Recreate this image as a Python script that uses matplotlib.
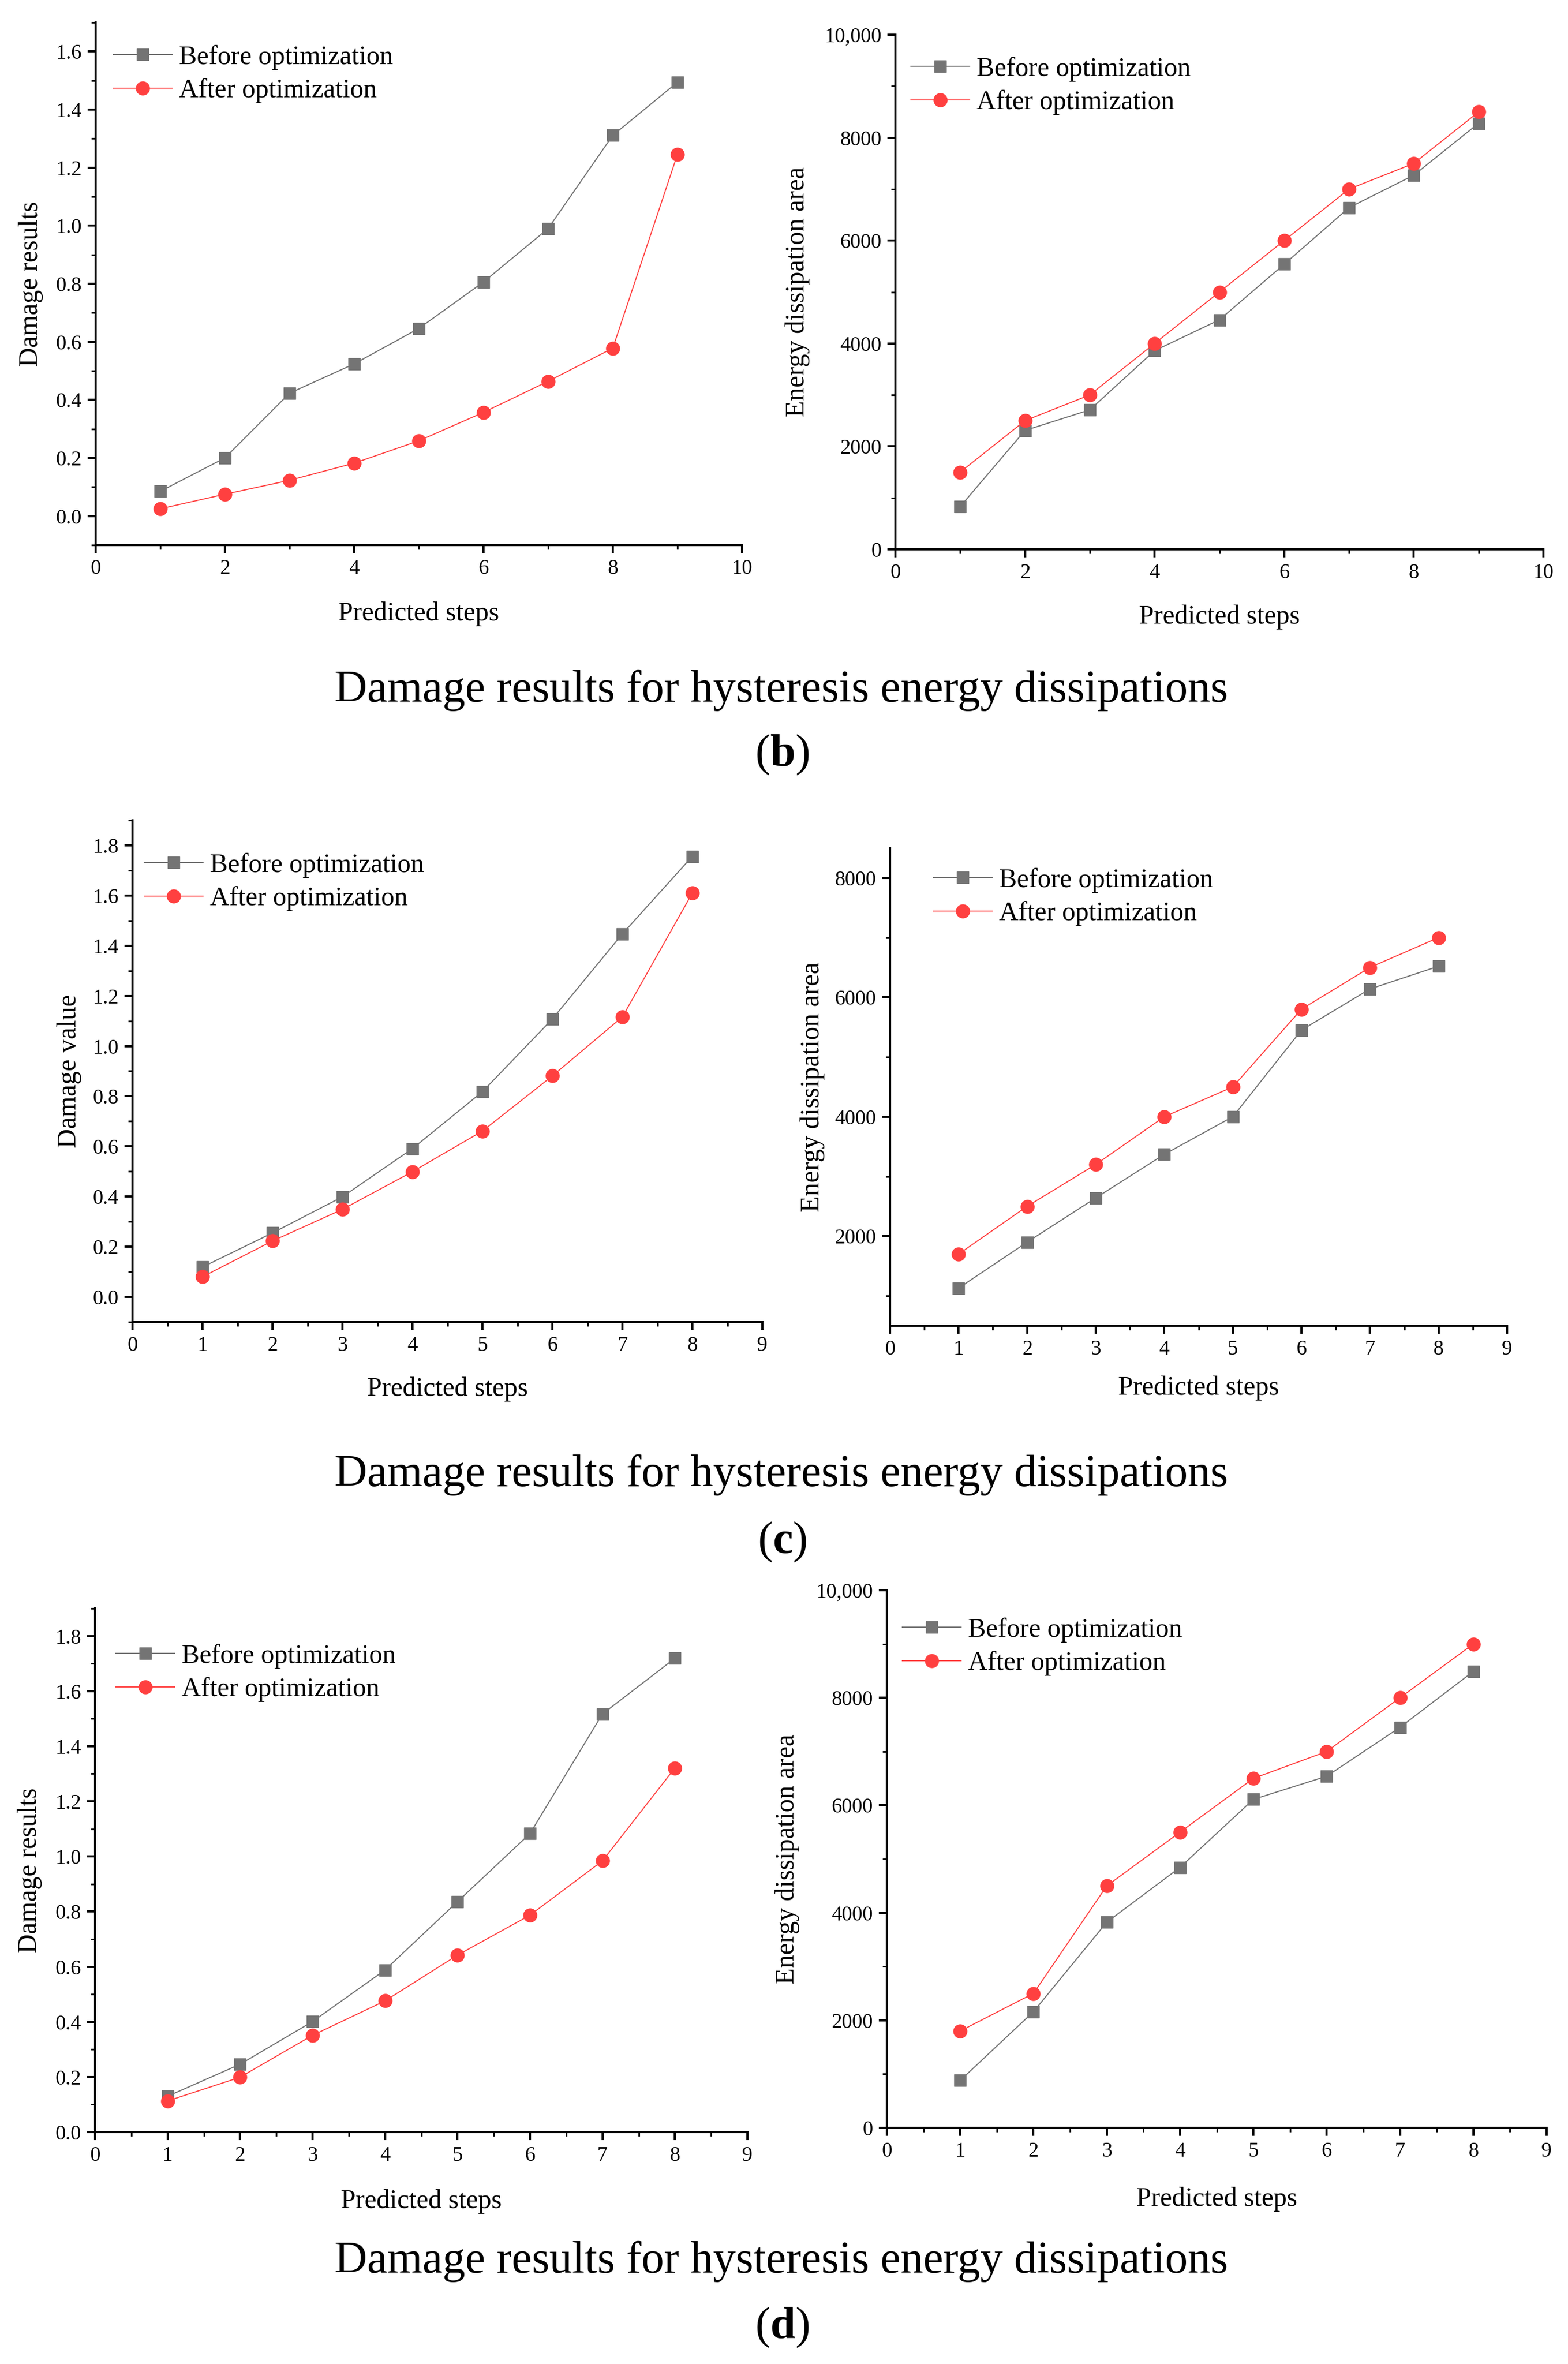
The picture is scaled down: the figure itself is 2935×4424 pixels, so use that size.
import matplotlib
matplotlib.use('Agg')
import matplotlib.pyplot as plt
from matplotlib.ticker import MultipleLocator, FuncFormatter

plt.rcParams['font.family'] = ['Liberation Serif', 'DejaVu Serif']
plt.rcParams['mathtext.fontset'] = 'custom'
plt.rcParams['mathtext.rm'] = 'Liberation Serif'
plt.rcParams['mathtext.bf'] = 'Liberation Serif:bold'

W, H = 2935, 4424

legend_labels = ['Before optimization', 'After optimization']
caption = 'Damage results for hysteresis energy dissipations'
xlabel = 'Predicted steps'

# (b)
steps_b = [1, 2, 3, 4, 5, 6, 7, 8, 9]
b_damage_before = [0.085, 0.20, 0.423, 0.524, 0.646, 0.806, 0.99, 1.311, 1.494]
b_damage_after = [0.025, 0.075, 0.123, 0.182, 0.259, 0.357, 0.464, 0.578, 1.245]
b_energy_before = [830, 2310, 2710, 3860, 4460, 5540, 6640, 7270, 8280]
b_energy_after = [1500, 2500, 3000, 4000, 5000, 6000, 7000, 7500, 8500]

# (c)
steps_c = [1, 2, 3, 4, 5, 6, 7, 8]
c_damage_before = [0.119, 0.255, 0.399, 0.591, 0.818, 1.108, 1.447, 1.756]
c_damage_after = [0.080, 0.223, 0.349, 0.499, 0.661, 0.881, 1.116, 1.610]
c_energy_before = [1130, 1900, 2640, 3370, 4000, 5450, 6140, 6520]
c_energy_after = [1700, 2500, 3200, 4000, 4500, 5800, 6500, 7000]

# (d)
steps_d = [1, 2, 3, 4, 5, 6, 7, 8]
d_damage_before = [0.13, 0.246, 0.401, 0.588, 0.836, 1.083, 1.517, 1.719]
d_damage_after = [0.113, 0.199, 0.351, 0.476, 0.642, 0.787, 0.984, 1.321]
d_energy_before = [880, 2160, 3825, 4845, 6110, 6540, 7450, 8490]
d_energy_after = [1800, 2500, 4500, 5500, 6500, 7000, 8000, 9000]

gray = '#747474'
red = '#ff4040'


def damage_fmt(v, pos):
    return '%.1f' % v


def energy_fmt(v, pos):
    if v >= 10000:
        return '{:,.0f}'.format(v)
    return '%.0f' % v


def draw_panel(fig, box, x, before, after, ylab, ylim, ymajor, yminor, xmax, xmajor,
               fmt, ylab_off, xlab_off, leg_dx, leg_dy):
    l, r, t, b = box
    ax = fig.add_axes([l / W, 1 - b / H, (r - l) / W, (b - t) / H])
    ax.plot(x, before, color=gray, lw=1.5, marker='s', ms=15.5, label=legend_labels[0])
    ax.plot(x, after, color=red, lw=1.4, marker='o', ms=18, label=legend_labels[1])
    ax.set_xlim(0, xmax)
    ax.set_ylim(*ylim)
    ax.xaxis.set_major_locator(MultipleLocator(xmajor))
    ax.xaxis.set_minor_locator(MultipleLocator(xmajor / 2))
    ax.yaxis.set_major_locator(MultipleLocator(ymajor))
    ax.yaxis.set_minor_locator(MultipleLocator(yminor))
    ax.yaxis.set_major_formatter(FuncFormatter(fmt))
    for side in ['top', 'right']:
        ax.spines[side].set_visible(False)
    for side in ['left', 'bottom']:
        ax.spines[side].set_linewidth(2.9)
    ax.tick_params(which='major', direction='out', length=10.8, width=2.9, labelsize=28)
    ax.tick_params(which='minor', direction='out', length=5.8, width=2.2)
    ax.tick_params(axis='x', which='major', pad=8)
    ax.tick_params(axis='y', which='major', pad=8)

    ax.set_ylabel(ylab, fontsize=36, va='center')
    ax.yaxis.set_label_coords(ylab_off / (r - l), 0.5)
    ax.set_xlabel(xlabel, fontsize=36, va='center')
    ax.xaxis.set_label_coords(0.5, -xlab_off / (b - t))

    ax.legend(loc='upper left', bbox_to_anchor=(leg_dx / (r - l), 1 - (leg_dy - 21) / (b - t)),
              frameon=False, fontsize=36, borderpad=0, borderaxespad=0,
              handlelength=2.2, handletextpad=0.26, labelspacing=0.31, numpoints=1)
    return ax


fig = plt.figure(figsize=(W / 100, H / 100), dpi=100)

draw_panel(fig, (179, 1389, 42, 1020), steps_b, b_damage_before, b_damage_after,
           'Damage results', (-0.1, 1.7), 0.2, 0.1, 10, 2, damage_fmt, -121, 129, 33, 63)
draw_panel(fig, (1676, 2889, 65, 1028), steps_b, b_energy_before, b_energy_after,
           'Energy dissipation area', (0, 10000), 2000, 1000, 10, 2, energy_fmt, -183, 127, 29, 62)

draw_panel(fig, (248, 1427, 1535, 2474), steps_c, c_damage_before, c_damage_after,
           'Damage value', (-0.1, 1.9), 0.2, 0.1, 9, 1, damage_fmt, -118, 126, 22, 82)
draw_panel(fig, (1666, 2821, 1587, 2481), steps_c, c_energy_before, c_energy_after,
           'Energy dissipation area', (500, 8500), 2000, 1000, 9, 1, energy_fmt, -145, 117, 81, 58)

draw_panel(fig, (178, 1399, 3010, 3990), steps_d, d_damage_before, d_damage_after,
           'Damage results', (0, 1.9), 0.2, 0.1, 9, 1, damage_fmt, -122, 130, 39, 87)
draw_panel(fig, (1660, 2895, 2976, 3982), steps_d, d_energy_before, d_energy_after,
           'Energy dissipation area', (0, 10000), 2000, 1000, 9, 1, energy_fmt, -186, 134, 29, 72)

captions = [(1292, 1413, 'b'), (2760, 2886, 'c'), (4232, 4356, 'd')]
for cap_y, tag_y, tag in captions:
    fig.text(1462 / W, 1 - cap_y / H, caption, fontsize=61, ha='center', va='center')
    fig.text(1464 / W, 1 - tag_y / H, r'($\mathbf{%s}$)' % tag, fontsize=61, ha='center', va='center')

fig.savefig('out.png', dpi=100)
